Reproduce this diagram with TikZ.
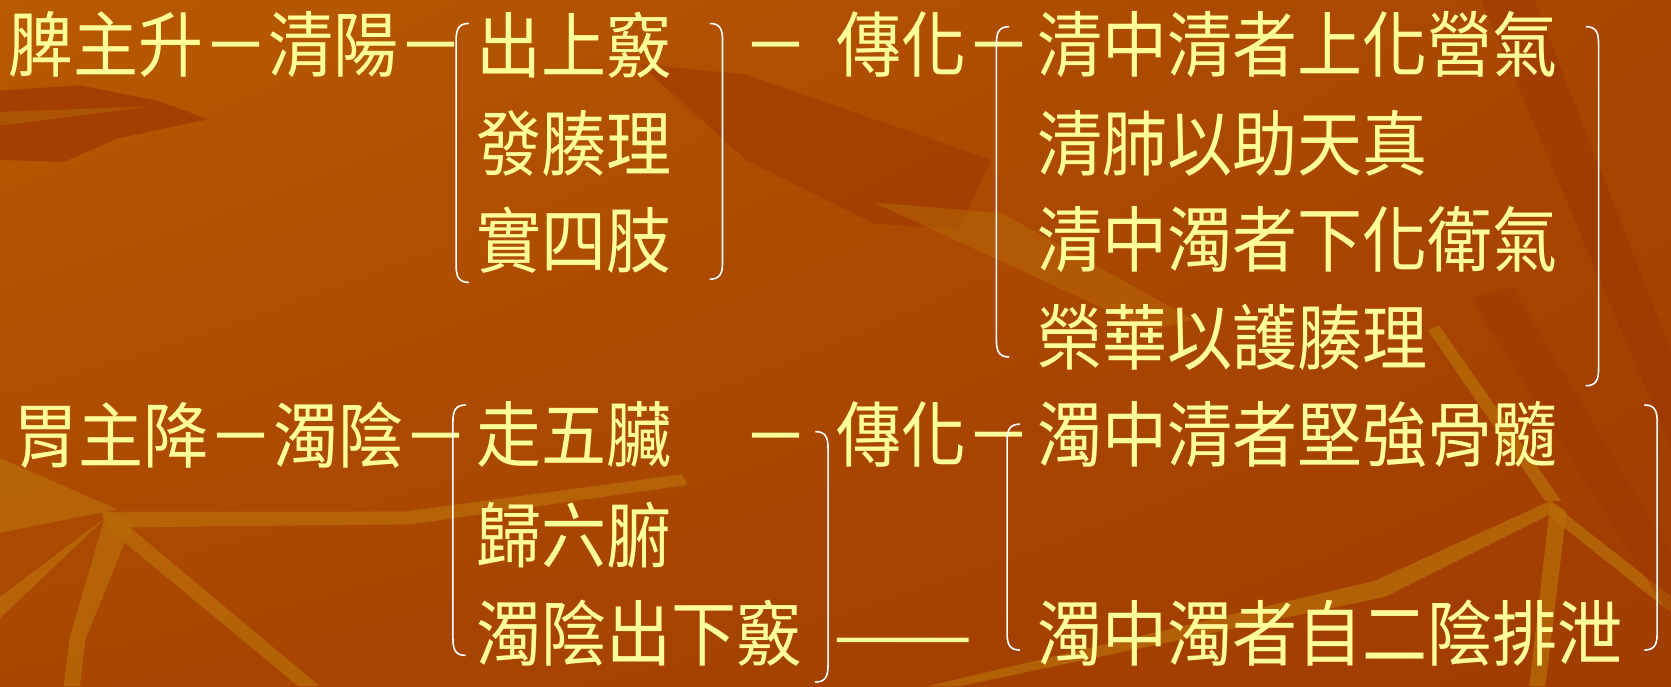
\documentclass[tikz,border=0pt]{standalone}
\usepackage{fontspec}
\usetikzlibrary{shadings}
\newfontfamily\cjk{Noto Sans CJK TC}
\definecolor{txtc}{HTML}{FFFF99}
\definecolor{bgUL}{HTML}{B85A00}
\definecolor{bgUR}{HTML}{A84600}
\definecolor{bgLL}{HTML}{A84600}
\definecolor{bgLR}{HTML}{A03C00}
\definecolor{bgDark}{HTML}{9C3600}
\definecolor{bgLight}{HTML}{B86A08}
\newcommand\mylb[3]{\draw[brk] ({#1+12},#2) .. controls ({#1+2},#2) and (#1,{#2+6}) .. (#1,{#2+16}) -- (#1,{#3-16}) .. controls (#1,{#3-6}) and ({#1+2},#3) .. ({#1+12},#3);}
\newcommand\myrb[3]{\draw[brk] ({#1-12},#2) .. controls ({#1-2},#2) and (#1,{#2+6}) .. (#1,{#2+16}) -- (#1,{#3-16}) .. controls (#1,{#3-6}) and ({#1-2},#3) .. ({#1-12},#3);}
\newcommand\tall[1]{\scalebox{1}[1.1]{\vphantom{中}#1}}
\begin{document}
\begin{tikzpicture}[x=1pt,y=-1pt,
  txt/.style={anchor=west,inner sep=0pt,text=txtc,font=\cjk\fontsize{61}{61}\selectfont},
  brk/.style={draw=white,line width=1.5pt},
  dk/.style={fill=bgDark,opacity=0.7},
  lt/.style={fill=bgLight,opacity=0.8}]
\useasboundingbox (0,0) rectangle (1568,644);
\shade[upper left=bgUL,upper right=bgUR,lower left=bgLL,lower right=bgLR] (0,0) rectangle (1568,644);
% background decoration
\fill[dk] (0,85) -- (75,80) -- (150,95) -- (195,112) -- (110,130) -- (60,152) -- (0,150) -- cycle;
\fill[lt,opacity=0.5] (0,105) -- (140,100) -- (0,118) -- cycle;
\fill[dk,opacity=0.5] (600,60) -- (700,70) -- (930,150) -- (900,215) -- (820,210) -- (700,150) -- cycle;
\fill[dk,opacity=0.5] (1390,0) -- (1440,0) -- (1568,330) -- (1568,420) -- cycle;
\fill[lt,opacity=0.5] (820,190) -- (940,200) -- (1120,300) -- (1080,310) -- cycle;
% lower-left strands
\fill[lt] (0,430) -- (110,478) -- (0,500) -- cycle;
\fill[lt] (95,480) -- (380,480) -- (640,445) -- (645,455) -- (385,492) -- (100,495) -- cycle;
\fill[lt] (100,480) -- (125,490) -- (80,600) -- (75,644) -- (60,644) -- (65,600) -- cycle;
\fill[lt] (110,485) -- (300,644) -- (280,644) -- (100,495) -- cycle;
\fill[lt] (100,485) -- (0,580) -- (0,560) -- cycle;
% lower-right strands
\fill[lt] (1460,480) -- (1300,560) -- (900,644) -- (870,644) -- (1290,545) -- (1455,470) -- cycle;
\fill[lt] (1455,470) -- (1470,480) -- (1450,644) -- (1435,644) -- cycle;
\fill[lt] (1450,470) -- (1340,310) -- (1350,305) -- (1465,470) -- cycle;
\fill[lt] (1460,475) -- (1568,560) -- (1568,575) -- (1455,485) -- cycle;
\fill[dk,opacity=0.4] (1380,280) -- (1420,270) -- (1568,520) -- (1568,580) -- cycle;

% row 1
\node[txt] (r1a) at (8,42) {\tall{脾主升－清陽－}};
\node[txt] (r1b1) at (447,42) {\tall{出上竅}};
\node[txt] (r1b2) at (447,135) {\tall{發腠理}};
\node[txt] (r1b3) at (447,225) {\tall{實四肢}};
\node[txt] (r1d) at (697,42) {\tall{－}};
\node[txt] (r1e) at (785,42) {\tall{傳化－}};
\node[txt] (r1f1) at (973,42) {\tall{清中清者上化營氣}};
\node[txt] (r1f2) at (973,135) {\tall{清肺以助天真}};
\node[txt] (r1f3) at (973,225) {\tall{清中濁者下化衛氣}};
\node[txt] (r1f4) at (973,317) {\tall{榮華以護腠理}};
\mylb{428}{22}{265}
\myrb{678}{22}{262}
\mylb{935}{25}{335}
\myrb{1500}{25}{362}

% row 2
\node[txt] (r2a) at (12,408) {\tall{胃主降－濁陰－}};
\node[txt] (r2b1) at (447,408) {\tall{走五臟}};
\node[txt] (r2b2) at (447,502) {\tall{歸六腑}};
\node[txt] (r2b3) at (447,594) {\tall{濁陰出下竅}};
\node[txt] (r2d) at (697,408) {\tall{－}};
\node[txt] (r2e) at (785,408) {\tall{傳化－}};
\node[txt] (r2g) at (782,594) {\scalebox{1.28}[1.1]{\vphantom{中}——}};
\node[txt] (r2f1) at (973,408) {\tall{濁中清者堅強骨髓}};
\node[txt] (r2f2) at (973,594) {\tall{濁中濁者自二陰排泄}};
\mylb{425}{380}{615}
\myrb{777}{405}{640}
\mylb{945}{398}{610}
\myrb{1555}{380}{610}
\end{tikzpicture}
\end{document}
